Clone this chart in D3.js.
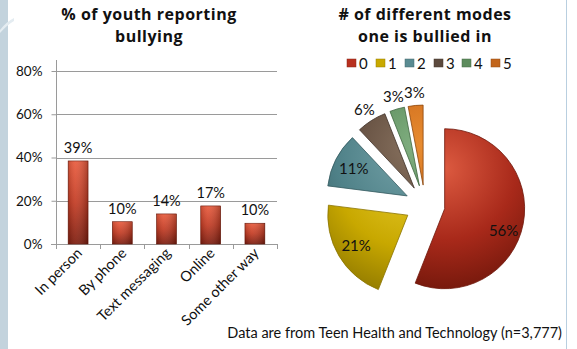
<!DOCTYPE html>
<html>
<head>
<meta charset="utf-8">
<script src="https://cdn.jsdelivr.net/npm/d3@7"></script>
<style>
body{margin:0;background:#fff;}
svg{display:block;font-family:Lato,"Open Sans",sans-serif;}
</style>
</head>
<body>
<svg id="c" width="577" height="349"></svg>
<script>
// ---- data ----
const barCategories = ["In person","By phone","Text messaging","Online","Some other way"];
const barValues = [38.4, 10.3, 13.9, 17.6, 9.6];
const barLabels = ["39%","10%","14%","17%","10%"];
const yTicks = [0,20,40,60,80];

const pieCategories = ["0","1","2","3","4","5"];
const pieValues = [56, 21, 11, 6, 3, 3];
const pieLabels = ["56%","21%","11%","6%","3%","3%"];

const leftTitle = ["% of youth reporting","bullying"];
const rightTitle = ["# of different modes","one is bullied in"];
const footnote = "Data are from Teen Health and Technology (n=3,777)";

// ---- drawing ----
const svg = d3.select("#c");
const defs = svg.append("defs");

// left decorative strip
svg.append("rect").attr("x",0).attr("y",0).attr("width",8).attr("height",349).attr("fill","#c3d3dd");
svg.append("path").attr("d","M0,30 Q6,22 14,18 L14,21 Q7,25 0,33 Z").attr("fill","#e4ecf1");
// right thin line
svg.append("line").attr("x1",566.5).attr("x2",566.5).attr("y1",0).attr("y2",349)
  .attr("stroke","#b9cfe0").attr("stroke-width",1);

// ---- bar chart ----
const x = d3.scaleBand().domain(barCategories).range([56,277]).paddingInner(0.55).paddingOuter(0.275);
const y = d3.scaleLinear().domain([0,80]).range([244,71]);

// titles
const titleFont = "'Open Sans',Lato,sans-serif";
function drawTitle(lines, cxT){
  lines.forEach((t,i)=>{
    svg.append("text").attr("text-anchor","middle").attr("font-weight","bold")
      .attr("font-size",16).attr("letter-spacing",0.5).attr("font-family",titleFont).attr("fill","#111")
      .attr("x",cxT).attr("y",20+i*22).text(t);
  });
}
drawTitle(leftTitle,149);
drawTitle(rightTitle,425);

// gridlines
const grid = svg.append("g");
grid.selectAll("line").data(yTicks.filter(d=>d>0)).join("line")
  .attr("x1",56).attr("x2",277).attr("y1",d=>Math.round(y(d))+0.5).attr("y2",d=>Math.round(y(d))+0.5)
  .attr("stroke","#9a9a9a").attr("stroke-width",1);

// y axis
const yAxis = d3.axisLeft(y).tickValues(yTicks).tickFormat(d=>d+"%").tickSize(5).tickPadding(9);
const yg = svg.append("g").attr("transform","translate(56.5,0)").call(yAxis);
yg.select(".domain").attr("d","M0,60V244.5").attr("stroke","#9a9a9a");
yg.selectAll(".tick line").attr("stroke","#9a9a9a");
yg.selectAll(".tick text").attr("font-size",13.5).attr("fill","#111").attr("font-family","Lato,sans-serif");

// x axis baseline & ticks at band boundaries
const xg = svg.append("g");
xg.append("line").attr("x1",51).attr("x2",277).attr("y1",244.5).attr("y2",244.5).attr("stroke","#9a9a9a");
const step = x.step();
const bounds = d3.range(barCategories.length+1).map(i=>56 + i*step);
xg.selectAll("line.t").data(bounds).join("line").attr("class","t")
  .attr("x1",d=>Math.round(d)+0.5).attr("x2",d=>Math.round(d)+0.5).attr("y1",244).attr("y2",249)
  .attr("stroke","#9a9a9a");
xg.selectAll("text").data(barCategories).join("text")
  .attr("transform",d=>`translate(${x(d)+x.bandwidth()/2+5},254) rotate(-45)`)
  .attr("text-anchor","end").attr("font-size",14.5).attr("fill","#111").text(d=>d);

// bar gradient
const bg = defs.append("linearGradient").attr("id","barG").attr("x1",0).attr("y1",0).attr("x2",0).attr("y2",1);
bg.append("stop").attr("offset","0%").attr("stop-color","#e95a3c");
bg.append("stop").attr("offset","50%").attr("stop-color","#c23a22");
bg.append("stop").attr("offset","100%").attr("stop-color","#7c1b0d");
const bh = defs.append("linearGradient").attr("id","barH").attr("x1",0).attr("y1",0).attr("x2",1).attr("y2",0);
bh.append("stop").attr("offset","0%").attr("stop-color","#000").attr("stop-opacity",0.15);
bh.append("stop").attr("offset","35%").attr("stop-color","#fff").attr("stop-opacity",0.08);
bh.append("stop").attr("offset","100%").attr("stop-color","#000").attr("stop-opacity",0.25);

const bars = svg.append("g");
bars.selectAll("rect.b").data(barValues).join("rect").attr("class","b")
  .attr("x",(d,i)=>x(barCategories[i])).attr("width",x.bandwidth())
  .attr("y",d=>y(d)).attr("height",d=>y(0)-y(d))
  .attr("fill","url(#barG)").attr("stroke","#6a1608").attr("stroke-width",0.6);
bars.selectAll("rect.h").data(barValues).join("rect").attr("class","h")
  .attr("x",(d,i)=>x(barCategories[i])).attr("width",x.bandwidth())
  .attr("y",d=>y(d)).attr("height",d=>y(0)-y(d))
  .attr("fill","url(#barH)");
bars.selectAll("text").data(barValues).join("text")
  .attr("x",(d,i)=>x(barCategories[i])+x.bandwidth()/2).attr("y",d=>y(d)-8)
  .attr("text-anchor","middle").attr("font-size",14.5).attr("fill","#111")
  .text((d,i)=>barLabels[i]);

// ---- pie chart ----
const pieColors = [
  ["#dc5a40","#a8291a","#6e160a"],
  ["#e6ca2c","#c8a800","#8a7400"],
  ["#72a0a6","#4f8188","#355a5f"],
  ["#88725f","#604b3d","#3f3027"],
  ["#82b082","#5d8d5d","#3f663f"],
  ["#e88c30","#cc6a1c","#8c460c"]
];
const legendColors = ["#b8301f","#c9a900","#5a8b92","#5c4a3e","#5d8c5d","#c2651b"];

pieColors.forEach((c,i)=>{
  const g = defs.append("radialGradient").attr("id","pg"+i).attr("gradientUnits","userSpaceOnUse")
    .attr("cx",0).attr("cy",-40).attr("r",130);
  g.append("stop").attr("offset","0%").attr("stop-color",c[0]);
  g.append("stop").attr("offset","55%").attr("stop-color",c[1]);
  g.append("stop").attr("offset","100%").attr("stop-color",c[2]);
});

const cx = 425, cy = 205, R = 80, explode = 20;
const pie = d3.pie().sort(null).value(d=>d);
const arcs = pie(pieValues);
const arc = d3.arc().innerRadius(0).outerRadius(R);
const pg = svg.append("g").attr("transform",`translate(${cx},${cy})`);
const sl = pg.selectAll("g.s").data(arcs).join("g").attr("class","s")
  .attr("transform",d=>{
    const a = (d.startAngle+d.endAngle)/2;
    return `translate(${explode*Math.sin(a)},${-explode*Math.cos(a)})`;
  });
sl.append("path").attr("d",arc).attr("fill",(d,i)=>`url(#pg${i})`)
  .attr("stroke",(d,i)=>pieColors[i][2]).attr("stroke-width",0.8).attr("stroke-linejoin","round");
sl.append("text").attr("text-anchor","middle").attr("dy","0.35em").attr("font-size",15).attr("fill","#111")
  .attr("transform",d=>{
    const a = (d.startAngle+d.endAngle)/2 + (d.data >= 50 ? 0.17 : 0);
    const r = d.data >= 10 ? (d.data>=50 ? 63 : 60) : 93;
    return `translate(${r*Math.sin(a)},${-r*Math.cos(a)})`;
  })
  .text((d,i)=>pieLabels[i]);

// legend
const legX = [347,376,405,434,462,491];
const lg = svg.append("g");
pieCategories.forEach((c,i)=>{
  lg.append("rect").attr("x",legX[i]).attr("y",59).attr("width",9).attr("height",8)
    .attr("fill",legendColors[i]).attr("stroke",d3.color(legendColors[i]).darker(0.8)).attr("stroke-width",0.5);
  lg.append("text").attr("x",legX[i]+12).attr("y",68.5).attr("font-size",15).attr("fill","#111").text(c);
});

// footnote
svg.append("text").attr("x",562).attr("y",338).attr("text-anchor","end").attr("font-size",14.5)
  .attr("fill","#111").text(footnote);
</script>
</body>
</html>
